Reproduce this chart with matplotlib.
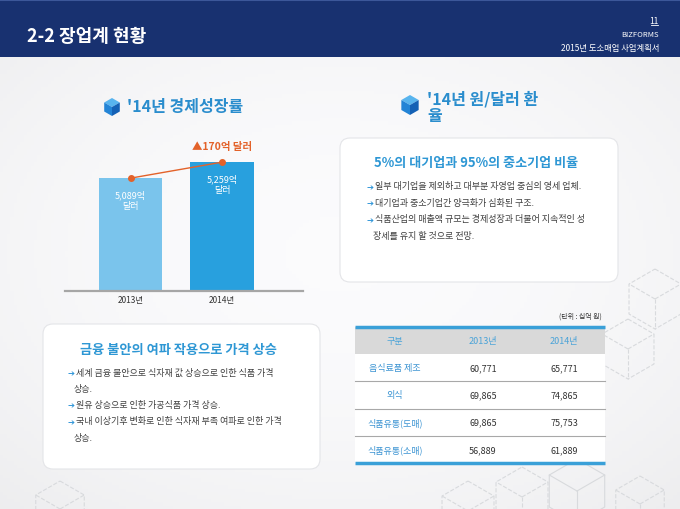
import math
import numpy as np
import matplotlib
matplotlib.use("Agg")
import matplotlib.pyplot as plt
from matplotlib.patches import FancyBboxPatch, Polygon, Rectangle

plt.rcParams['font.family'] = ['Noto Sans CJK KR', 'DejaVu Sans']

# -------------------------------
# data
# -------------------------------
gdp_years = ['2013년', '2014년']
gdp_values = [5089, 5259]          # 억 달러

table_header = ['구분', '2013년', '2014년']
table_categories = ['음식료품 제조', '외식', '식품유통(도매)', '식품유통(소매)']
sales_2013 = [60771, 69865, 69865, 56889]
sales_2014 = [65771, 74865, 75753, 61889]
table_unit = '(단위 : 십억 원)'

left_title = '금융 불안의 여파 작용으로 가격 상승'
left_bullets = [['세계 금융 불안으로 식자재 값 상승으로 인한 식품 가격', '상승.'],
                ['원유 상승으로 인한 가공식품 가격 상승.'],
                ['국내 이상기후 변화로 인한 식자재 부족 여파로 인한 가격', '상승.']]
right_title = '5%의 대기업과 95%의 중소기업 비율'
right_bullets = [['일부 대기업을 제외하고 대부분 자영업 중심의 영세 업체.'],
                 ['대기업과 중소기업간 양극화가 심화된 구조.'],
                 ['식품산업의 매출액 규모는 경제성장과 더불어 지속적인 성', '장세를 유지 할 것으로 전망.']]

NAVY = '#183170'
BLUE_T = '#2a8dcd'
BLUE_BOX = '#2e97d4'
ORANGE = '#e3622a'
TXT = '#404040'

# -------------------------------
# helpers
# -------------------------------
def hex_pts(cx, cy, r):
    return [(cx + r * math.cos(math.radians(a)), cy + r * math.sin(math.radians(a)))
            for a in (-90, -30, 30, 90, 150, 210)]

def cube_icon(ax, cx, cy, r):
    p = hex_pts(cx, cy, r)
    c = (cx, cy)
    ax.add_patch(Polygon([p[0], p[1], c, p[5]], closed=True, fc='#58b4ee', ec='none', zorder=5))
    ax.add_patch(Polygon([p[5], c, p[3], p[4]], closed=True, fc='#2384d6', ec='none', zorder=5))
    ax.add_patch(Polygon([c, p[1], p[2], p[3]], closed=True, fc='#1461b5', ec='none', zorder=5))

def cube_outline(ax, cx, cy, r, ls='--'):
    p = hex_pts(cx, cy, r)
    ax.add_patch(Polygon(p, closed=True, fill=False, ec='#d8dadd', lw=0.8, ls=ls, zorder=1))
    for k in (1, 3, 5):
        ax.plot([cx, p[k][0]], [cy, p[k][1]], color='#d8dadd', lw=0.8, ls=ls, zorder=1)

def bullets(ax, x, y0, lines, dy):
    y = y0
    for item in lines:
        ax.text(x, y, '➔', color='#2f95d8', fontsize=6,
                family='DejaVu Sans', va='center', ha='left', zorder=6)
        ax.text(x + 8, y, item[0], color=TXT, fontsize=6.5, va='center', ha='left', zorder=6)
        for extra in item[1:]:
            y += dy
            ax.text(x + 6, y, extra, color=TXT, fontsize=6.5, va='center', ha='left', zorder=6)
        y += dy

# -------------------------------
# page
# -------------------------------
fig = plt.figure(figsize=(6.8, 5.1), dpi=100)
bg = fig.add_axes([0, 0, 1, 1])
bg.set_xlim(0, 680); bg.set_ylim(510, 0); bg.axis('off')

gx, gy = np.meshgrid(np.linspace(-1, 1, 200), np.linspace(-1, 1, 150))
shade = 0.985 - 0.05 * (0.5 * gx**2 + 0.6 * gy**2)
bg.imshow(np.dstack([shade, shade, shade + 0.006]).clip(0, 1), extent=[0, 680, 510, 0],
          aspect='auto', zorder=0)

for (cx, cy, r, ls) in [(655, 300, 30, '--'), (628, 350, 30, '--'), (577, 492, 32, '-'),
                        (522, 498, 30, '--'), (468, 512, 30, '--'), (640, 505, 28, '--'),
                        (60, 510, 28, '--')]:
    cube_outline(bg, cx, cy, r, ls)

# header
bg.add_patch(Rectangle((0, 0), 680, 58, fc=NAVY, ec='none', zorder=2))
bg.plot([0, 680], [0.8, 0.8], color='#3c5799', lw=1.5, zorder=3)
bg.text(27, 36, '2-2 장업계 현황', color='white', fontsize=13, fontweight='bold',
        va='center', ha='left', zorder=4)
bg.text(658, 21, '11', color='white', fontsize=6, va='center', ha='right', zorder=4)
bg.plot([651, 658], [26, 26], color='white', lw=0.6, zorder=4)
bg.text(659, 35, 'BIZFORMS', color='white', fontsize=5.5, va='center', ha='right', zorder=4)
bg.text(659, 49, '2015년 도소매업 사업계획서', color='white', fontsize=6, va='center', ha='right', zorder=4)

# section titles
cube_icon(bg, 112, 108, 9)
bg.text(127, 107, "'14년 경제성장률", color=BLUE_T, fontsize=11.5, fontweight='bold',
        va='center', ha='left', zorder=5)
cube_icon(bg, 410, 106, 10)
bg.text(427, 99, "'14년 원/달러 환", color=BLUE_T, fontsize=11.5, fontweight='bold',
        va='center', ha='left', zorder=5)
bg.text(427, 116, "율", color=BLUE_T, fontsize=11.5, fontweight='bold',
        va='center', ha='left', zorder=5)

# text boxes
for (x0, y0, x1, y1) in [(340, 139, 618, 283), (43, 325, 320, 470)]:
    bg.add_patch(FancyBboxPatch((x0, y0), x1 - x0, y1 - y0,
                                boxstyle='round,pad=0,rounding_size=10',
                                fc='white', ec='#e4e5e8', lw=0.8, zorder=3))

bg.text(476, 163, right_title, color=BLUE_BOX, fontsize=9.4, fontweight='bold',
        va='center', ha='center', zorder=6)
bullets(bg, 367, 187, right_bullets, 16.5)

bg.text(178, 350, left_title, color=BLUE_BOX, fontsize=9.5, fontweight='bold',
        va='center', ha='center', zorder=6)
bullets(bg, 68, 373, left_bullets, 16.3)

# table
tx0, tx1 = 355, 605
col_x = [395, 483, 564]
head_top, head_bot = 328, 355
row_h = (464 - head_bot) / len(table_categories)
bg.text(602, 317, table_unit, color='#333333', fontsize=5, va='center', ha='right', zorder=6)
bg.add_patch(Rectangle((tx0, head_top), tx1 - tx0, head_bot - head_top, fc='#d9d9d9', ec='none', zorder=4))
bg.add_patch(Rectangle((tx0, head_bot), tx1 - tx0, 464 - head_bot, fc='white', ec='none', zorder=4))
for j, h in enumerate(table_header):
    bg.text(col_x[j], (head_top + head_bot) / 2, h, color='#4aa3d8', fontsize=6.5,
            va='center', ha='center', zorder=6)
for i, cat in enumerate(table_categories):
    yc = head_bot + row_h * (i + 0.5)
    bg.text(col_x[0], yc, cat, color='#3a93d2', fontsize=6.5, va='center', ha='center', zorder=6)
    bg.text(col_x[1], yc, f'{sales_2013[i]:,}', color='#333333', fontsize=6.5,
            va='center', ha='center', zorder=6)
    bg.text(col_x[2], yc, f'{sales_2014[i]:,}', color='#333333', fontsize=6.5,
            va='center', ha='center', zorder=6)
    if i > 0:
        yl = head_bot + row_h * i
        bg.plot([tx0, tx1], [yl, yl], color='#a8a8a8', lw=0.8, zorder=5)
bg.plot([tx0, tx1], [head_top, head_top], color='#3aa0d8', lw=2.5, zorder=5, solid_capstyle='butt')
bg.plot([tx0, tx1], [464, 464], color='#3aa0d8', lw=2.5, zorder=5, solid_capstyle='butt')

# -------------------------------
# bar chart
# -------------------------------
ax = fig.add_axes([65 / 680, (510 - 292) / 510, (303 - 65) / 680, (292 - 140) / 510])
ax.patch.set_alpha(0)
xs = np.arange(len(gdp_values))
ax.bar(xs, gdp_values, width=0.69, color=['#7ac4ec', '#28a0de'], zorder=2)
ax.plot(xs, gdp_values, color=ORANGE, lw=1.0, marker='o', ms=4, zorder=3)
ax.set_xlim(-0.716, 1.885)
ax.set_ylim(3890, 5505)
for x, v in zip(xs, gdp_values):
    ax.annotate(f'{v:,}억\n달러', xy=(x, v), xytext=(0, -8), textcoords='offset points',
                ha='center', va='top', color='white', fontsize=6.5, linespacing=1.3, zorder=4)
growth = gdp_values[-1] - gdp_values[0]
ax.annotate(f'▲{growth}억 달러', xy=(xs[-1], gdp_values[-1]), xytext=(0, 11.5),
            textcoords='offset points', ha='center', va='center', color=ORANGE,
            fontsize=7.5, fontweight='bold')
ax.set_xticks(xs)
ax.set_xticklabels(gdp_years, fontsize=6, color='#333333')
ax.set_yticks([])
ax.tick_params(axis='x', length=0, pad=3)
for s in ('top', 'left', 'right'):
    ax.spines[s].set_visible(False)
ax.spines['bottom'].set_color('#a6a6a6')
ax.spines['bottom'].set_linewidth(1.6)

fig.savefig('out.png', dpi=100)
